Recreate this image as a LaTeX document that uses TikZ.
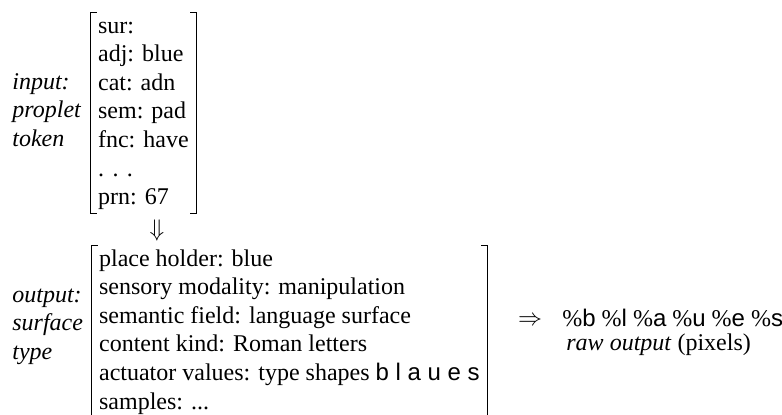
\documentclass[tikz,border=0pt]{standalone}
\usepackage{fontspec}
\setmainfont{Liberation Serif}
\setsansfont{Liberation Sans}
\newcommand{\pcs}[1]{{\rmfamily\%}\textsf{#1}}

\begin{document}
\begin{tikzpicture}[x=0.5pt,y=-0.5pt,
    fs/.style={font=\fontsize{12}{14.3}\selectfont},
    avm/.style={fs, inner xsep=3.6pt, inner ysep=0pt},
    lbl/.style={font=\fontsize{12}{14.3}\selectfont\itshape, inner sep=0pt},
    brk/.style={line width=0.8pt}]
  \clip (0,0) rectangle (782,414);
  % ---- input: proplet token ----
  \node[avm, anchor=base west] (tok) at (90.5,33) {\begin{tabular}[t]{@{}l@{}}
      sur:\\ adj: blue\\ cat: adn\\ sem: pad\\ fnc: have\\ .\kern.35em.\kern.35em.\\ prn: 67
    \end{tabular}};
  \draw[brk] ([xshift=3pt]tok.north west) -- (tok.north west)
    -- (tok.south west) -- ++(3pt,0);
  \draw[brk] ([xshift=-3pt]tok.north east) -- (tok.north east)
    -- (tok.south east) -- ++(-3pt,0);
  \node[lbl, anchor=base west] (tokl) at (12,89) {\begin{tabular}[t]{@{}l@{}}
      input:\\ proplet\\ token
    \end{tabular}};
  \node[fs, inner sep=0pt] (dn) at (157,230) {$\Downarrow$};
  % ---- output: surface type ----
  \node[avm, anchor=base west] (sfc) at (91.5,266) {\begin{tabular}[t]{@{}l@{}}
      place holder: blue\\
      sensory modality: manipulation\\
      semantic field: language surface\\
      content kind: Roman letters\\
      actuator values: type shapes \textsf{b l a u e s}\\
      samples: ...
    \end{tabular}};
  \draw[brk] ([xshift=3pt]sfc.north west) -- (sfc.north west)
    -- (sfc.south west) -- ++(3pt,0);
  \draw[brk] ([xshift=-3pt]sfc.north east) -- (sfc.north east)
    -- (sfc.south east) -- ++(-3pt,0);
  \node[lbl, anchor=base west] (sfcl) at (12,302) {\begin{tabular}[t]{@{}l@{}}
      output:\\ surface\\ type
    \end{tabular}};
  % ---- raw output ----
  \node[fs, inner sep=0pt, anchor=base] (rt) at (530,325) {$\Rightarrow$};
  \node[fs, inner sep=0pt, anchor=base west] (outs) at (562,326)
    {\pcs{b} \pcs{l} \pcs{a} \pcs{u} \pcs{e} \pcs{s}};
  \node[fs, inner sep=0pt, anchor=base west] (raw) at (566,350)
    {\textit{raw output} (pixels)};
\end{tikzpicture}
\end{document}
